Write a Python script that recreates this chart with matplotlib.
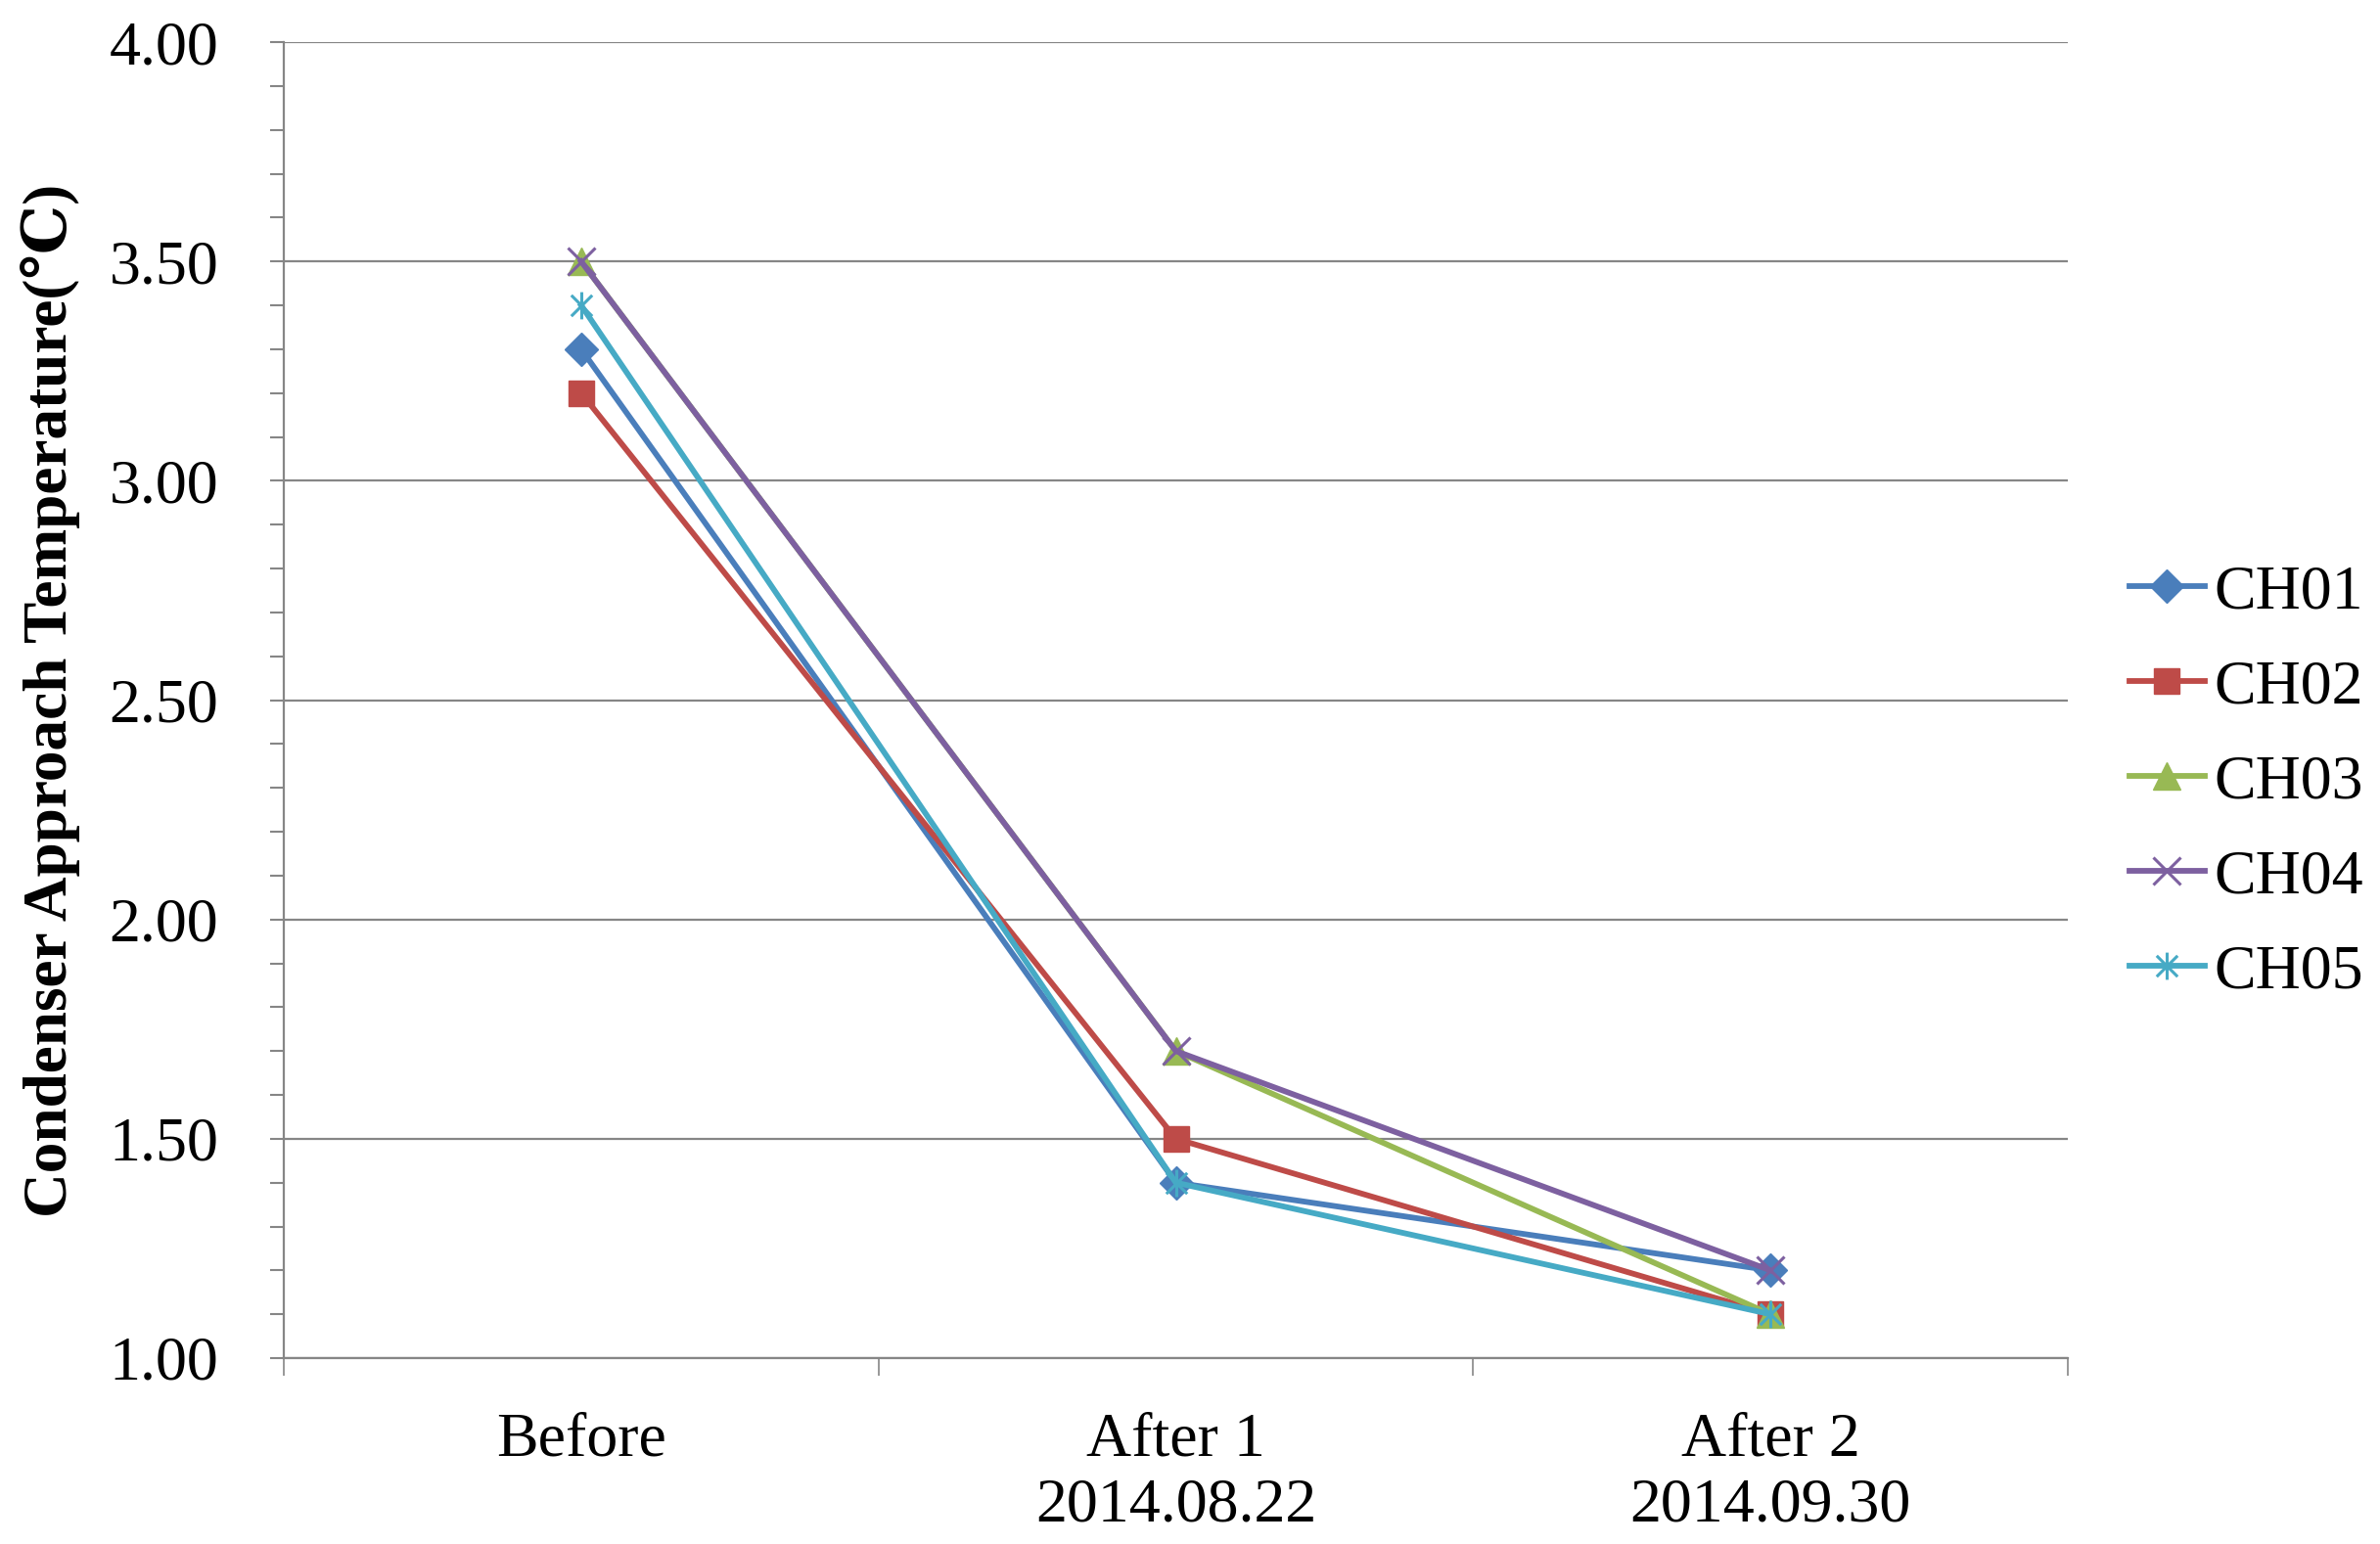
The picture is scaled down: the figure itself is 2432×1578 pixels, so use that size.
import matplotlib
matplotlib.use("Agg")
import matplotlib.pyplot as plt
from matplotlib.path import Path
from matplotlib.ticker import MultipleLocator, FixedLocator

plt.rcParams['font.family'] = ['Liberation Serif', 'DejaVu Serif']

# data
categories = ["Before", "After 1\n2014.08.22", "After 2\n2014.09.30"]
series_names = ["CH01", "CH02", "CH03", "CH04", "CH05"]
ch01 = [3.3, 1.4, 1.2]
ch02 = [3.2, 1.5, 1.1]
ch03 = [3.5, 1.7, 1.1]
ch04 = [3.5, 1.7, 1.2]
ch05 = [3.4, 1.4, 1.1]

# excel style asterisk (x + vertical bar)
star = Path([(-1, -1), (1, 1), (-1, 1), (1, -1), (0, -1.3), (0, 1.3)],
            [Path.MOVETO, Path.LINETO] * 3)

styles = [
    dict(color='#4A7EBB', marker='D', markersize=17),
    dict(color='#BE4B48', marker='s', markersize=19),
    dict(color='#98B954', marker='^', markersize=20),
    dict(color='#7D60A0', marker='x', markersize=20, markeredgewidth=2.2),
    dict(color='#46AAC5', marker=star, markersize=20, markeredgewidth=2.2),
]

fig = plt.figure(figsize=(24.32, 15.78), dpi=100)
ax = fig.add_axes([290 / 2432, 1 - 1388 / 1578, 1823 / 2432, 1345 / 1578])

x = list(range(len(categories)))
for name, vals, st in zip(series_names, [ch01, ch02, ch03, ch04, ch05], styles):
    ax.plot(x, vals, linewidth=4.2, label=name, **st)

ax.set_xlim(-0.5, len(categories) - 0.5)
ax.set_ylim(1.0, 4.0)

grey = '#868686'
ax.yaxis.set_major_locator(MultipleLocator(0.5))
ax.yaxis.set_minor_locator(MultipleLocator(0.1))
ax.yaxis.set_major_formatter(matplotlib.ticker.FormatStrFormatter('%.2f'))
ax.grid(axis='y', which='major', color=grey, linewidth=1.6)
ax.set_axisbelow(True)

ax.set_xticks(x)
ax.set_xticklabels(categories)
ax.xaxis.set_minor_locator(FixedLocator([i - 0.5 for i in range(len(categories) + 1)]))

ax.tick_params(axis='y', which='both', direction='out', length=10, width=1.5,
               color=grey, labelsize=46, pad=38)
ax.tick_params(axis='x', which='major', length=0, labelsize=46, pad=40)
ax.tick_params(axis='x', which='minor', direction='out', length=13, width=1.2, color=grey)

for side in ['top', 'right']:
    ax.spines[side].set_visible(False)
for side in ['left', 'bottom']:
    ax.spines[side].set_color(grey)
    ax.spines[side].set_linewidth(1.6)

ax.set_ylabel("Condenser Approach Temperature(℃)", fontsize=45.5, fontweight='bold')
ax.yaxis.set_label_coords(-0.114, 0.5)

fig.legend(loc='center left', bbox_to_anchor=(2176 / 2432, 1 - 800 / 1578),
           frameon=False, fontsize=46, handlelength=1.2, handletextpad=0.15,
           labelspacing=0.6, borderpad=0, borderaxespad=0)

fig.savefig("out.png", dpi=100)
